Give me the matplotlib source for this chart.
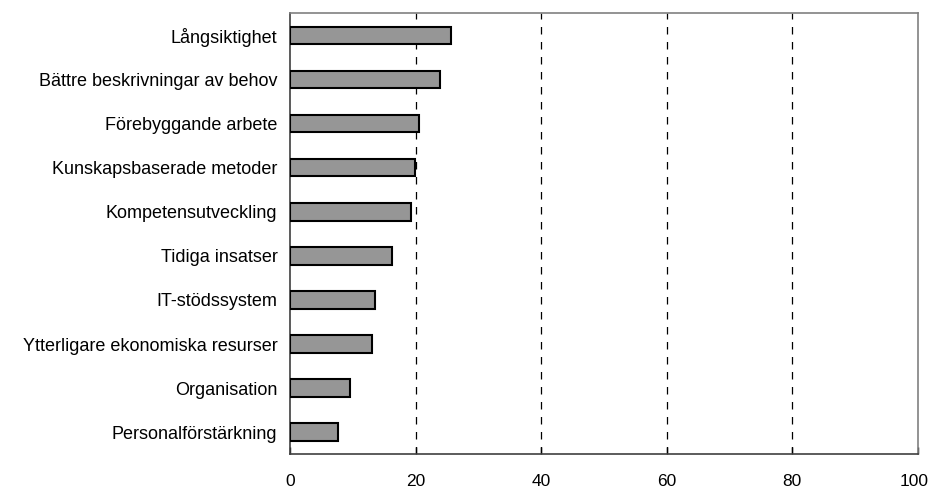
import matplotlib
matplotlib.use("Agg")
import matplotlib.pyplot as plt
from matplotlib.transforms import ScaledTranslation

categories = [
    "Långsiktighet",
    "Bättre beskrivningar av behov",
    "Förebyggande arbete",
    "Kunskapsbaserade metoder",
    "Kompetensutveckling",
    "Tidiga insatser",
    "IT-stödssystem",
    "Ytterligare ekonomiska resurser",
    "Organisation",
    "Personalförstärkning",
]
values = [25.6, 23.9, 20.5, 19.9, 19.2, 16.3, 13.5, 13.1, 9.6, 7.7]
x_ticks = [0, 20, 40, 60, 80, 100]

plt.rcParams["font.family"] = ["Liberation Sans", "DejaVu Sans"]

fig = plt.figure(figsize=(9.3, 4.88), dpi=100)
ax = fig.add_axes([0.3118, 0.069, 0.675, 0.9037])

ypos = list(range(len(categories)))
ax.barh(ypos, values, height=0.4, color="#969696", edgecolor="black", linewidth=1.5, zorder=3)

ax.set_xlim(0, 100)
ax.set_ylim(len(categories) - 0.5, -0.5)
ax.set_yticks(ypos)
ax.set_yticklabels(categories, fontsize=13)
ax.set_xticks(x_ticks)
ax.set_xticklabels([str(t) for t in x_ticks], fontsize=12.5)
ax.tick_params(axis="y", length=0, pad=9)
ax.tick_params(axis="x", direction="in", length=5, width=1, color="black", pad=14)

# keep the last tick label inside the figure
last = ax.get_xticklabels()[-1]
last.set_transform(last.get_transform() + ScaledTranslation(-4 / 100, 0, fig.dpi_scale_trans))

for t in x_ticks[1:-1]:
    ax.axvline(t, color="black", linestyle=(0, (6, 6)), linewidth=0.9, zorder=1)

ax.spines["left"].set_color("#404040")
ax.spines["bottom"].set_color("#404040")
ax.spines["top"].set_color("#808080")
ax.spines["right"].set_color("#808080")
for s in ax.spines.values():
    s.set_linewidth(1.2)

fig.savefig("out.png", dpi=100)
